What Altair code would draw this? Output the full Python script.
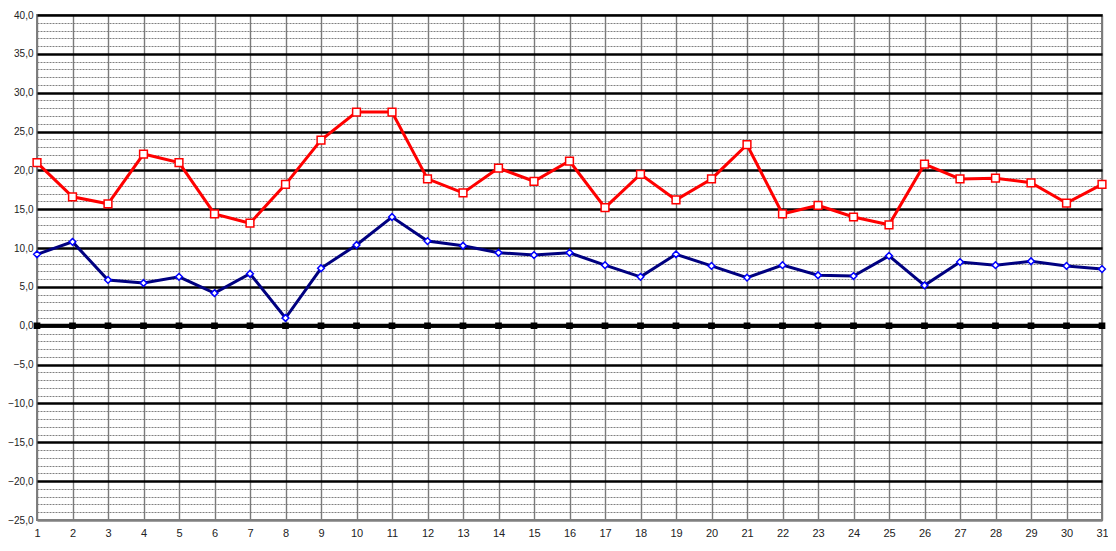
import altair as alt
import pandas as pd

days = list(range(1, 32))
red_vals = [21.0, 16.6, 15.7, 22.1, 21.0, 14.4, 13.2, 18.2, 23.9, 27.5,
            27.5, 18.9, 17.1, 20.3, 18.6, 21.2, 15.2, 19.5, 16.2, 18.9,
            23.3, 14.4, 15.5, 14.0, 13.0, 20.8, 18.9, 19.0, 18.4, 15.8, 18.2]
blue_vals = [9.2, 10.8, 5.9, 5.5, 6.3, 4.2, 6.7, 1.0, 7.4, 10.4,
             14.0, 10.9, 10.3, 9.4, 9.1, 9.4, 7.8, 6.3, 9.2, 7.7,
             6.2, 7.8, 6.5, 6.4, 9.0, 5.2, 8.2, 7.8, 8.3, 7.7, 7.3]
zero_vals = [0.0] * 31
y_ticks = list(range(-25, 41))

df = pd.DataFrame({"day": days, "red": red_vals, "blue": blue_vals, "zero": zero_vals})

font = "Liberation Sans"
major = "datum.value % 5 === 0"

x_enc = alt.X("day:Q",
              scale=alt.Scale(domain=[1, 31], nice=False, zero=False),
              axis=alt.Axis(values=days, tickCount=200, format="d", title=None, grid=True,
                            gridColor="#7a7a7a", gridWidth=1.4, domain=False, ticks=False,
                            labelFlush=False, labelOverlap=False, labelPadding=7,
                            labelFont=font, labelFontSize=11, labelColor="#222222"))

y_scale = alt.Scale(domain=[-25, 40], nice=False, zero=False)
y_axis = alt.Axis(values=y_ticks, tickCount=200, title=None, grid=True, domain=False, ticks=False,
                  labelExpr="datum.value % 5 === 0 ? replace(format(datum.value, '.1f'), '.', ',') : ''",
                  labelOverlap=False, labelPadding=4, labelFont=font, labelFontSize=10,
                  labelColor="#222222",
                  gridColor={"condition": {"test": major + " && datum.value > -25", "value": "#000000"}, "value": "#808080"},
                  gridWidth={"condition": {"test": major, "value": 2.6}, "value": 1},
                  gridDash={"condition": {"test": major, "value": []}, "value": [2, 1]})

base = alt.Chart(df).encode(x=x_enc)

zero_line = base.mark_line(color="black", strokeWidth=4).encode(
    y=alt.Y("zero:Q", scale=y_scale, axis=y_axis))
zero_pts = base.mark_point(shape="square", filled=True, fill="black", stroke="black",
                           size=22, opacity=1).encode(y=alt.Y("zero:Q", scale=y_scale))

red_line = base.mark_line(color="#FF0000", strokeWidth=3).encode(
    y=alt.Y("red:Q", scale=y_scale))
red_pts = base.mark_point(shape="square", filled=True, fill="white", stroke="#FF0000",
                          strokeWidth=1.5, size=60, opacity=1).encode(
    y=alt.Y("red:Q", scale=y_scale))

blue_line = base.mark_line(color="#000080", strokeWidth=3).encode(
    y=alt.Y("blue:Q", scale=y_scale))
blue_pts = base.mark_point(shape="diamond", filled=True, fill="white", stroke="#0000FF",
                           strokeWidth=1.5, size=45, opacity=1).encode(
    y=alt.Y("blue:Q", scale=y_scale))

chart = alt.layer(zero_line, zero_pts, red_line, red_pts, blue_line, blue_pts).properties(
    width=1065, height=505,
    autosize=alt.AutoSizeParams(type="none"),
    padding={"left": 29, "top": 7, "right": 6, "bottom": 23},
    background="white",
).configure_view(stroke="#808080", strokeWidth=2)

chart.save("out.html", embed_options={"renderer": "svg", "actions": False})
